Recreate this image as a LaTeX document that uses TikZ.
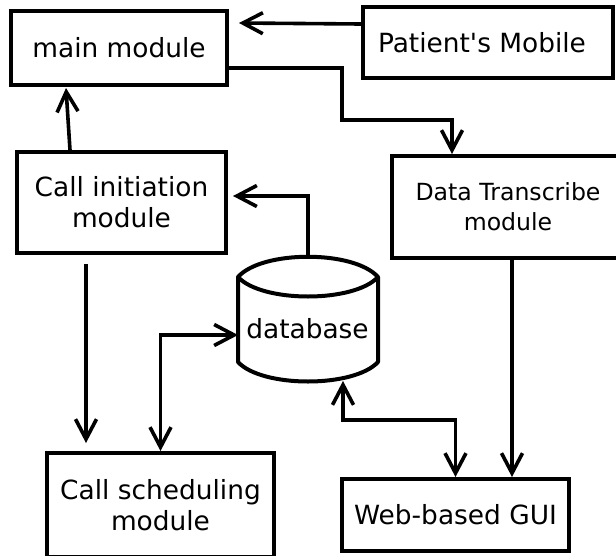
\documentclass[tikz,border=0pt]{standalone}
\usepackage{fontspec}
\setmainfont{DejaVu Sans}
\usetikzlibrary{arrows.meta}
\newcommand{\straightapos}{{\XeTeXglyph\XeTeXglyphindex "quotesingle"\relax}}
\tikzset{
  box/.style={draw, line width=4pt, rectangle, inner sep=0pt, align=center,
    font=\fontsize{26.4}{31}\selectfont},
  arr/.style={line width=3.6pt, -{Straight Barb[length=20pt,width=21pt,line width=3.6pt]}},
  arrtwo/.style={line width=3.6pt, {Straight Barb[length=20pt,width=21pt,line width=3.6pt]}-{Straight Barb[length=20pt,width=21pt,line width=3.6pt]}},
  cyl/.style={line width=4pt, line join=round}
}
\begin{document}
\begin{tikzpicture}[x=1pt,y=-1pt]
\path[use as bounding box, clip] (0,0) rectangle (616,555);
\fill[white] (0,0) rectangle (616,555);

\node[box, minimum width=216pt, minimum height=74pt] (main) at (119,48) {main module};
\node[box, minimum width=250pt, minimum height=71pt] (mobile) at (488,42.5) {Patient\straightapos s Mobile\hspace*{12pt}};
\node[box, minimum width=209pt, minimum height=101pt] (callinit) at (121.5,202.5) {Call initiation\\module};
\node[box, minimum width=232pt, minimum height=102pt, font=\fontsize{23.6}{30}\selectfont] (transcribe) at (508,207) {Data Transcribe\\module};
\node[box, minimum width=227pt, minimum height=104pt] (sched) at (160.5,505) {Call scheduling\\module};
\node[box, minimum width=227pt, minimum height=72pt] (gui) at (455.5,515) {Web-based GUI};

% database cylinder
\draw[cyl] (238,277) .. controls (262,250) and (354,250) .. (378,277)
  .. controls (354,303) and (262,303) .. cycle;
\draw[cyl] (238,277) -- (238,362)
  .. controls (262,388) and (354,388) .. (378,362) -- (378,277);
\node[font=\fontsize{26.4}{31}\selectfont, anchor=base, inner sep=0pt] (db) at (307.5,338) {database};
\coordinate (dbtop) at (308,256);
\coordinate (dbleft) at (238,335);
\coordinate (dbbot) at (343,381);
\coordinate (bendA) at (342,120);
\coordinate (bendB) at (343,420);

% connectors
\draw[arr] ([yshift=18.5pt]mobile.west) -- ([xshift=10pt,yshift=25pt]main.east);
\draw[arr] ([xshift=-51.5pt]callinit.north) -- ([xshift=-53pt,yshift=-1pt]main.south);
\draw[arr] ([yshift=-20pt]main.east) -| (bendA) -| ([xshift=-56pt]transcribe.north);
\draw[arr] (dbtop) |- ([xshift=5pt,yshift=6.5pt]callinit.east);
\draw[arr] ([xshift=-35.5pt,yshift=-9pt]callinit.south) -- ([xshift=-74.5pt,yshift=8pt]sched.north);
\draw[arrtwo] (sched.north) |- (dbleft);
\draw[arrtwo] (dbbot) -- (bendB) -| (gui.north);
\draw[arr] ([xshift=4pt]transcribe.south) -- ([xshift=56.5pt]gui.north);
\end{tikzpicture}
\end{document}
